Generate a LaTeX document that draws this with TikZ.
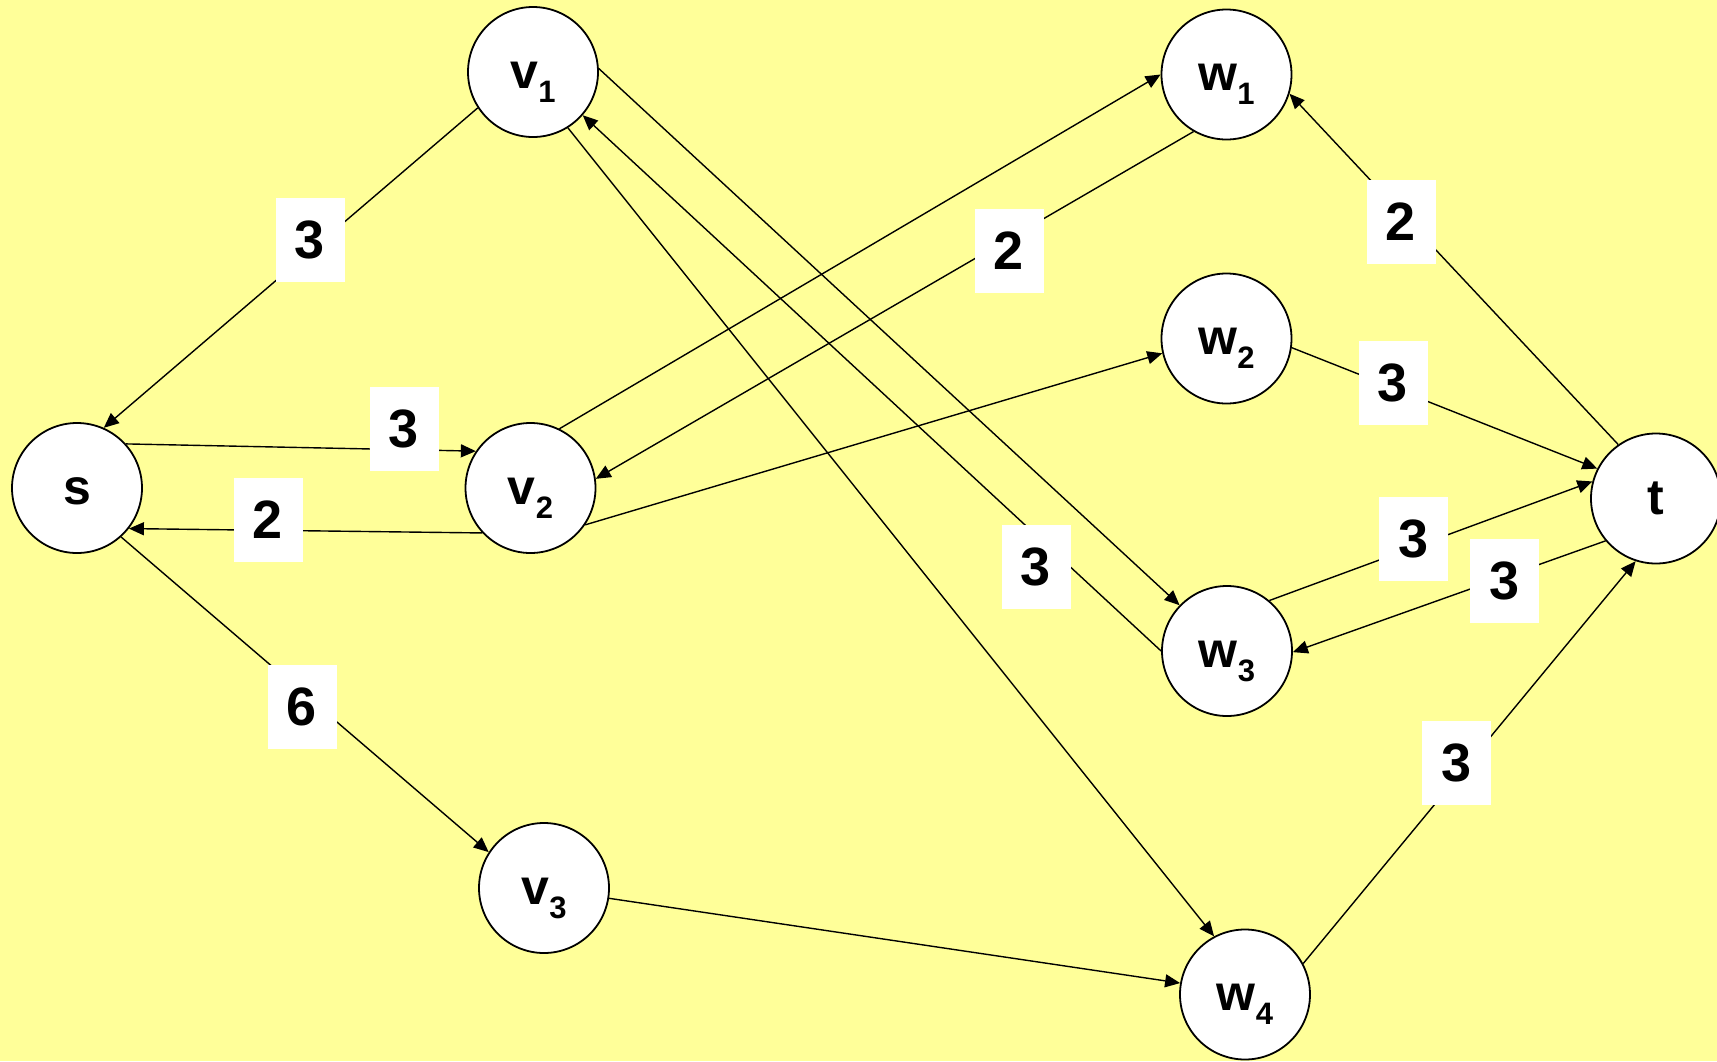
\documentclass[tikz,border=0pt]{standalone}
\usepackage{fontspec}
\setmainfont{Liberation Sans}
\usetikzlibrary{arrows.meta}
\definecolor{paper}{RGB}{255,255,153}
% lowered, smaller index after a vertex letter
\newcommand{\nsub}[1]{\raisebox{-14pt}{\fontsize{31}{31}\selectfont #1}}
\begin{document}
\begin{tikzpicture}[x=1pt,y=-1pt,
  vert/.style={circle, draw, line width=1.8pt, fill=white, minimum size=130pt,
    inner sep=0pt, font=\fontsize{50}{60}\selectfont\bfseries,
    text height=44.5pt, text depth=12.5pt},
  capbox/.style={fill=white, minimum width=69pt, minimum height=84pt, inner sep=0pt,
    font=\fontsize{54}{65}\selectfont\bfseries,
    text height=49pt, text depth=11.5pt},
  arc/.style={line width=1.4pt, -{Triangle[length=15pt,width=13pt]}}]

\useasboundingbox (0,0) rectangle (1717,1061);
\clip (0,0) rectangle (1717,1061);
\fill[paper] (0,0) rectangle (1717,1061);

% vertices
\node[vert] (s)  at (77,488)     {s};
\node[vert] (v1) at (533,72)     {v\nsub{1}};
\node[vert] (v2) at (530.5,488)  {v\nsub{2}};
\node[vert] (v3) at (544,888)    {v\nsub{3}};
\node[vert] (w1) at (1226.5,74.5) {w\nsub{1}};
\node[vert] (w2) at (1226.5,338.5) {w\nsub{2}};
\node[vert] (w3) at (1227,651)   {w\nsub{3}};
\node[vert] (w4) at (1245,994.5) {w\nsub{4}};
\node[vert] (t)  at (1656,498.5) {t};

% arcs
\draw[arc] (v1.213) -- (s.66);
\draw[arc] (s.42)   -- (v2.146);
\draw[arc] (v2.223) -- (s.322);
\draw[arc] (s.312)  -- (v3.147);
\draw[arc] (v2.64)  -- (w1.180);
\draw[arc] (w1.240) -- (v2.8);
\draw[arc] (v2.326) -- (w2.193);
\draw[arc] (v1.3)   -- (w3.136);
\draw[arc] (w3.180) -- (v1.319);
\draw[arc] (v1.302) -- (w4.118);
\draw[arc] (v3.351) -- (w4.170);
\draw[arc] (t.125)  -- (w1.343);
\draw[arc] (w2.352) -- (t.153);
\draw[arc] (w3.50)  -- (t.165);
\draw[arc] (t.220)  -- (w3.359);
\draw[arc] (w4.28)  -- (t.252);

% capacities
\node[capbox] (c1)  at (310,240)     {3};
\node[capbox] (c2)  at (404,429)     {3};
\node[capbox] (c3)  at (268,520)     {2};
\node[capbox] (c4)  at (302,707)     {6};
\node[capbox] (c6)  at (1009,251)    {2};
\node[capbox] (c9)  at (1036,567)    {3};
\node[capbox] (c12) at (1401,222)    {2};
\node[capbox] (c13) at (1393,383)    {3};
\node[capbox] (c14) at (1413.5,539)  {3};
\node[capbox] (c15) at (1504.5,581)  {3};
\node[capbox] (c16) at (1456.5,763)  {3};
\end{tikzpicture}
\end{document}
